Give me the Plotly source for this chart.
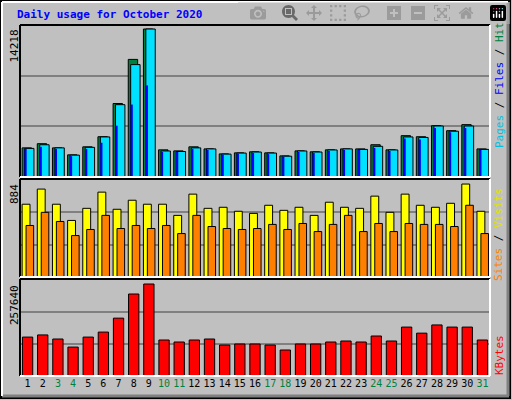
import plotly.graph_objects as go

days = list(range(1, 32))
hits = [2800,3200,2800,2130,2900,3870,7060,11300,14218,2610,2510,2900,2700,2220,2320,2420,2320,2030,2510,2420,2610,2700,2700,3100,2610,3970,3870,4930,4450,5030,2700]
files = [2750,3100,2800,2100,2850,3850,6950,10800,14218,2500,2450,2800,2700,2200,2300,2400,2300,2000,2500,2400,2600,2700,2650,2950,2600,3850,3800,4900,4400,4900,2650]
pages = [2700,2900,2700,2000,2700,3290,4930,6960,8800,2400,2400,2700,2600,2150,2250,2300,2200,1950,2400,2300,2500,2600,2600,2800,2500,3700,3600,4700,4300,4700,2600]
visits = [692,836,692,538,653,807,644,730,692,692,586,788,653,663,625,605,682,634,663,586,711,663,653,769,615,788,682,663,701,884,625]
sites = [490,615,528,394,452,586,461,490,461,490,413,586,480,461,452,461,500,452,509,432,500,586,432,509,432,509,500,500,480,682,413]
kbytes = [109000,115000,103600,81000,109000,123000,162000,229600,257640,100800,95200,100800,103600,86800,89600,89600,86800,72800,89600,89600,95200,98000,95200,112000,98000,137000,120000,143000,137000,137000,100800]
weekend = {3,4,10,11,17,18,24,25,31}

fig = go.Figure()
L, R, T, B = 20, 22, 24, 24
W, H = 512, 400
pw, ph = W - L - R, H - T - B
def px(x): return (x - L) / pw
def py(y): return (H - B - y) / ph

edge = dict(color="black", width=1)
fig.add_bar(x=days, y=hits, offset=-0.36, width=0.62, marker=dict(color="#008040", line=edge), yaxis="y")
fig.add_bar(x=days, y=files, offset=-0.2, width=0.62, marker=dict(color="#00e0ff", line=edge), yaxis="y")
fig.add_bar(x=days, y=pages, offset=-0.2, width=0.14, marker=dict(color="#0000ff", line=dict(width=0)), yaxis="y")
fig.add_bar(x=days, y=visits, offset=-0.36, width=0.52, marker=dict(color="#ffff00", line=edge), xaxis="x", yaxis="y2")
fig.add_bar(x=days, y=sites, offset=-0.1, width=0.5, marker=dict(color="#ff8000", line=edge), yaxis="y2")
fig.add_bar(x=days, y=kbytes, offset=-0.34, width=0.68, marker=dict(color="#ff0000", line=edge), yaxis="y3")

r1 = max(hits) * 151 / 147
r2 = max(visits) * 96 / 92
r3 = max(kbytes) * 96 / 92
ax = dict(showline=False, zeroline=False, showticklabels=False, ticks="", gridcolor="#808080", gridwidth=1.5, fixedrange=True)
fig.update_layout(
    width=W, height=H, margin=dict(l=L, r=R, t=T, b=B),
    paper_bgcolor="#c0c0c0", plot_bgcolor="#c0c0c0", showlegend=False, barmode="overlay",
    font=dict(family="DejaVu Sans Mono", size=11, color="black"),
    xaxis=dict(range=[0.5, 31.5], tickvals=days, showgrid=False, zeroline=False, ticks="", tickangle=0,
               tickfont=dict(size=10),
               ticktext=[f"<span style='color:#008040'>{d}</span>" if d in weekend else str(d) for d in days],
               anchor="y3"),
    yaxis=dict(ax, domain=[py(177), py(25)], range=[0, r1], tickvals=[r1/3, 2*r1/3]),
    yaxis2=dict(ax, domain=[py(277), py(180)], range=[0, r2], tickvals=[r2/3, 2*r2/3]),
    yaxis3=dict(ax, domain=[py(376), py(280)], range=[0, r3], tickvals=[r3/3, 2*r3/3]),
)
shapes = [dict(type="rect", xref="paper", yref="paper", x0=px(1), x1=px(510), y0=py(398), y1=py(1), line=dict(color="black", width=2)),
          dict(type="line", xref="paper", yref="paper", x0=px(2), x1=px(509), y0=py(396), y1=py(396), line=dict(color="#808080", width=3)),
          dict(type="line", xref="paper", yref="paper", x0=px(508), x1=px(508), y0=py(2), y1=py(396), line=dict(color="#808080", width=3)),
          dict(type="line", xref="paper", yref="paper", x0=px(2), x1=px(2), y0=py(2), y1=py(396), line=dict(color="white", width=2)),
          dict(type="line", xref="paper", yref="paper", x0=px(2), x1=px(508), y0=py(2), y1=py(2), line=dict(color="white", width=2))]
for y0, y1 in [(177, 25), (277, 179), (376, 279)]:
    shapes.append(dict(type="line", xref="paper", yref="paper", x0=0, x1=1, y0=py(y1), y1=py(y1), line=dict(color="black", width=2)))
    shapes.append(dict(type="line", xref="paper", yref="paper", x0=0, x1=0, y0=py(y0), y1=py(y1), line=dict(color="black", width=2)))
    shapes.append(dict(type="line", xref="paper", yref="paper", x0=0, x1=1, y0=py(y0), y1=py(y0), line=dict(color="white", width=2)))
    shapes.append(dict(type="line", xref="paper", yref="paper", x0=1, x1=1, y0=py(y0), y1=py(y1), line=dict(color="white", width=2)))
fig.update_layout(shapes=shapes)

ann = [dict(text="<b>Daily usage for October 2020</b>", x=px(15), y=py(15), font=dict(color="#0000ff", size=11)),
       dict(text=str(max(hits)), x=px(14), y=py(28), textangle=-90, yanchor="top"),
       dict(text=str(max(visits)), x=px(14), y=py(182), textangle=-90, yanchor="top"),
       dict(text=str(max(kbytes)), x=px(14), y=py(283), textangle=-90, yanchor="top"),
       dict(text="<span style='color:#00c0e0'>Pages</span> / <span style='color:#0000ff'>Files</span> / <span style='color:#008040'>Hits</span>",
            x=px(499), y=py(82), textangle=-90, yanchor="middle"),
       dict(text="<span style='color:#ff8000'>Sites</span> / <span style='color:#e0e000'>Visits</span>",
            x=px(499), y=py(235), textangle=-90, yanchor="middle"),
       dict(text="<span style='color:#ff0000'>KBytes</span>", x=px(499), y=py(355), textangle=-90, yanchor="middle")]
for a in ann:
    a.setdefault("xanchor", "left" if "Daily" in a["text"] else "center")
    a.setdefault("yanchor", "middle")
    a.update(xref="paper", yref="paper", showarrow=False)
fig.update_layout(annotations=ann)
fig.write_html("out.html")
with open("out.html", encoding="utf-8") as f:
    html = f.read()
html = html.replace("<body>", "<body style='margin:0'>", 1)
with open("out.html", "w", encoding="utf-8") as f:
    f.write(html)
